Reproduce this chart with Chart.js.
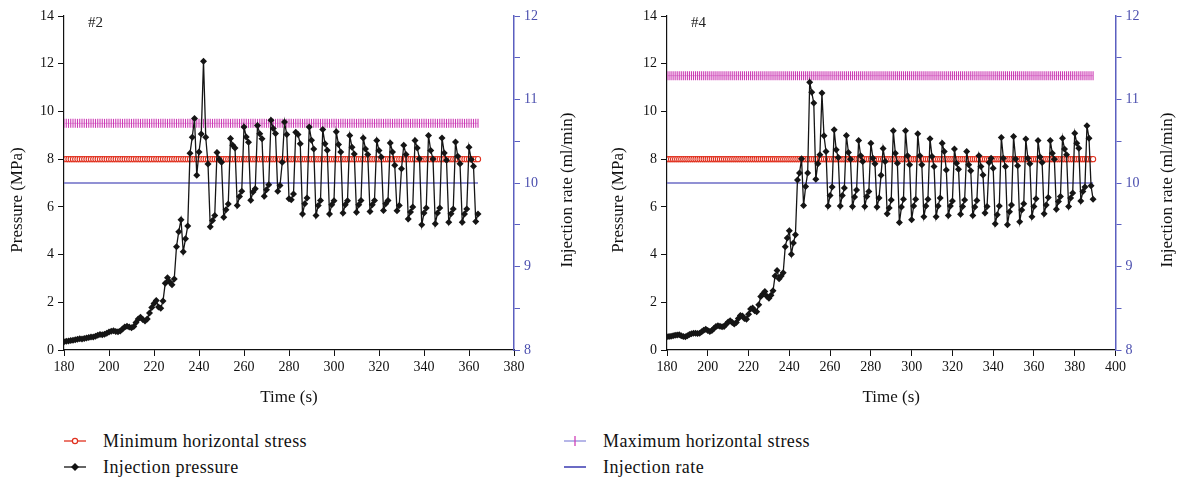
<!DOCTYPE html>
<html>
<head>
<meta charset="utf-8">
<script src="https://cdn.jsdelivr.net/npm/chart.js@4.4.1/dist/chart.umd.min.js"></script>
<style>
  body { margin: 0; background: #fff; width: 1182px; height: 481px; position: relative; overflow: hidden; font-family: "Liberation Serif", serif; }
  .box { position: absolute; top: 0; height: 420px; }
  .item { position: absolute; height: 20px; display: flex; align-items: center; font-size: 18px; letter-spacing: 0.4px; color: #111; }
  .item svg { margin-right: 15px; }
</style>
</head>
<body>
<div class="box" style="left:0;width:590px"><canvas id="c2"></canvas></div>
<div class="box" style="left:590px;width:592px"><canvas id="c4"></canvas></div>

<div class="item" style="left:62px;top:431px">
  <svg width="26" height="20"><line x1="2" y1="10" x2="24" y2="10" stroke="#e0301e" stroke-width="1.3"/><circle cx="13" cy="10" r="2.6" fill="#fff" stroke="#e0301e" stroke-width="1.2"/></svg>
  <span>Minimum horizontal stress</span>
</div>
<div class="item" style="left:62px;top:457px">
  <svg width="26" height="20"><line x1="2" y1="10" x2="24" y2="10" stroke="#111" stroke-width="1.3"/><polygon points="13,6 17,10 13,14 9,10" fill="#111"/></svg>
  <span>Injection pressure</span>
</div>
<div class="item" style="left:562px;top:431px">
  <svg width="26" height="20"><line x1="2" y1="10" x2="24" y2="10" stroke="#8f8fdc" stroke-width="1.3"/><line x1="13" y1="5" x2="13" y2="15" stroke="#d040b8" stroke-width="1.3"/></svg>
  <span>Maximum horizontal stress</span>
</div>
<div class="item" style="left:562px;top:457px">
  <svg width="26" height="20"><line x1="2" y1="10" x2="24" y2="10" stroke="#6b6bc4" stroke-width="2"/></svg>
  <span>Injection rate</span>
</div>

<script>
// sampling: one reading per second starting at 180 s
const startTime = 180;

// well #2 injection pressure (MPa), 180 s .. 364 s
const pressure2 = [
  0.35,0.37,0.38,0.40,0.41,0.43,0.45,0.47,0.46,0.48,
  0.50,0.52,0.54,0.55,0.58,0.62,0.65,0.64,0.66,0.70,
  0.75,0.79,0.81,0.78,0.77,0.80,0.88,0.96,1.00,0.96,
  0.93,0.98,1.15,1.30,1.37,1.28,1.22,1.30,1.55,1.78,
  1.95,2.08,1.80,1.75,2.05,2.80,3.03,2.85,2.73,2.98,
  4.33,4.96,5.46,4.12,4.66,5.20,8.25,8.92,9.70,7.33,
  8.30,9.05,12.10,8.92,7.80,5.17,5.43,5.64,8.28,8.00,
  7.87,5.56,5.88,6.12,8.87,8.58,8.47,6.06,6.43,6.65,
  9.35,8.93,8.71,6.28,6.62,6.76,9.41,9.06,8.85,6.44,
  6.72,6.93,9.63,9.28,9.08,6.65,6.89,7.87,9.56,9.03,
  6.34,6.30,6.54,9.13,9.03,8.64,5.70,6.13,6.37,9.35,
  8.79,8.43,5.64,6.06,6.27,9.24,8.64,8.37,5.70,6.09,
  6.26,9.15,8.61,8.30,5.74,6.09,6.26,8.99,8.50,8.22,
  5.77,6.09,6.27,8.89,8.43,8.19,5.81,6.09,6.27,8.78,
  8.36,8.09,5.85,6.13,6.27,8.68,8.30,7.74,5.84,6.06,
  7.60,8.58,8.19,5.49,5.78,5.99,8.78,8.47,8.02,5.25,
  5.74,5.95,8.99,8.36,8.01,5.29,5.74,5.95,8.89,8.26,
  7.95,5.35,5.71,5.91,8.72,8.12,7.81,5.36,5.70,5.91,
  8.50,7.98,7.70,5.39,5.70
];

// well #4 injection pressure (MPa), 180 s .. 389 s
const pressure4 = [
  0.56,0.57,0.58,0.60,0.62,0.63,0.64,0.60,0.57,0.56,
  0.60,0.65,0.68,0.70,0.70,0.69,0.70,0.76,0.83,0.87,
  0.82,0.78,0.82,0.90,0.98,1.02,1.00,0.97,0.99,1.08,
  1.17,1.23,1.15,1.09,1.15,1.32,1.45,1.42,1.32,1.29,
  1.50,1.72,1.76,1.65,1.60,1.90,2.24,2.35,2.45,2.25,
  2.17,2.30,2.48,3.10,3.33,2.99,3.10,3.24,4.33,4.69,
  5.00,4.01,4.48,4.83,7.13,7.42,8.02,6.06,6.85,7.42,
  11.22,10.80,10.35,7.16,7.81,8.18,10.77,8.98,8.32,6.04,
  6.48,6.83,9.23,8.39,8.07,6.04,6.48,6.79,8.99,8.28,
  8.00,6.01,6.41,6.71,8.78,8.14,7.90,6.01,6.43,6.64,
  8.67,8.04,7.81,5.99,6.37,7.33,8.45,7.90,5.71,5.95,
  6.29,9.19,8.25,7.83,5.34,5.99,6.32,9.19,8.14,7.76,
  5.46,6.04,6.32,9.06,8.14,7.76,5.59,6.04,6.32,8.85,
  8.11,7.69,5.59,6.04,6.37,8.67,8.32,7.55,5.64,6.04,
  6.25,8.42,7.83,7.58,5.69,6.01,6.29,8.32,7.76,7.51,
  5.64,5.99,6.27,8.14,7.69,7.34,5.74,6.01,7.86,8.04,
  7.62,5.29,5.67,6.04,8.91,8.04,7.69,5.25,5.80,6.08,
  8.95,8.01,7.72,5.38,5.87,6.13,8.84,8.04,7.81,5.59,
  6.01,6.34,8.78,8.09,7.86,5.71,6.08,6.39,8.78,8.25,
  8.00,5.90,6.22,6.43,8.88,8.42,8.18,6.01,6.37,6.58,
  9.09,8.67,8.46,6.25,6.64,6.83,9.40,8.88,6.88,6.32
];

const wells = ['#2', '#4'];
const xMax = [380, 400];
const minStress = [8, 8];        // MPa
const maxStress = [9.5, 11.5];   // MPa
const injRate = [10, 10];        // ml/min

const rateColor = '#5b5fc0';

Chart.defaults.font.family = '"Liberation Serif", serif';
Chart.defaults.font.size = 14;
Chart.defaults.color = '#111';

// well tag inside the plot plus the two vertical axis titles (both read bottom-to-top)
const tagPlugin = {
  id: 'tag',
  afterDraw(chart, args, opts) {
    const { ctx, chartArea } = chart;
    ctx.save();
    ctx.font = '15px "Liberation Serif"';
    ctx.fillStyle = '#222';
    ctx.textBaseline = 'middle';
    ctx.fillText(opts.text, chartArea.left + 24, chartArea.top + 7);

    ctx.font = '17px "Liberation Serif"';
    ctx.fillStyle = '#111';
    ctx.textAlign = 'center';
    for (const t of opts.titles) {
      ctx.save();
      ctx.translate(t.x, t.y);
      ctx.rotate(-Math.PI / 2);
      ctx.fillText(t.text, 0, 0);
      ctx.restore();
    }
    ctx.restore();
  }
};

function fixSize(prop, v) {
  return (scale) => { scale[prop] = v; };
}

function makeChart(id, i, sizes) {
  const pres = [pressure2, pressure4][i];
  const times = pres.map((_, k) => startTime + k);
  const flat = (v) => times.map(t => ({ x: t, y: v }));

  new Chart(document.getElementById(id), {
    type: 'line',
    data: {
      datasets: [
        {
          label: 'Injection pressure',
          data: pres.map((p, k) => ({ x: times[k], y: p })),
          borderColor: '#151515', backgroundColor: '#151515',
          borderWidth: 1.3, pointStyle: 'rectRot', pointRadius: 3.5,
          pointBorderWidth: 0, order: 0, yAxisID: 'y'
        },
        {
          label: 'Minimum horizontal stress',
          data: flat(minStress[i]),
          borderColor: '#e0301e', backgroundColor: '#fff',
          borderWidth: 1.2, pointStyle: 'circle', pointRadius: 2.6,
          pointBorderWidth: 1.1, order: 1, yAxisID: 'y'
        },
        {
          label: 'Maximum horizontal stress',
          data: flat(maxStress[i]),
          borderColor: '#e6a6de', pointBorderColor: '#cc3cb4',
          borderWidth: 1, pointStyle: 'line', pointRotation: 90, pointRadius: 4.5,
          pointBorderWidth: 1.1, order: 2, yAxisID: 'y'
        },
        {
          label: 'Injection rate',
          data: flat(injRate[i]),
          borderColor: '#6d6dc6', borderWidth: 1.5, pointRadius: 0,
          order: 3, yAxisID: 'y1'
        }
      ]
    },
    options: {
      responsive: true,
      maintainAspectRatio: false,
      animation: false,
      layout: { padding: { top: 16 } },
      plugins: {
        legend: { display: false },
        tooltip: { enabled: false },
        tag: {
          text: wells[i],
          titles: [
            { text: 'Pressure (MPa)', x: sizes.ytx, y: 200 },
            { text: 'Injection rate (ml/min)', x: sizes.y1tx, y: 190 }
          ]
        }
      },
      scales: {
        x: {
          type: 'linear', min: 180, max: xMax[i],
          ticks: { stepSize: 20, maxRotation: 0, padding: 3 },
          grid: { drawOnChartArea: false, color: '#111', tickLength: 6 },
          border: { color: '#111', width: 1.2 },
          title: { display: true, text: 'Time (s)', font: { size: 17 }, padding: { bottom: 12 } },
          afterFit: fixSize('height', 70)
        },
        y: {
          position: 'left', min: 0, max: 14,
          ticks: { stepSize: 2, padding: 4 },
          grid: { drawOnChartArea: false, color: '#111', tickLength: 6 },
          border: { color: '#111', width: 1.2 },
          afterFit: fixSize('width', sizes.yw)
        },
        y1: {
          position: 'right', min: 8, max: 12,
          ticks: {
            stepSize: 0.5, autoSkip: false, padding: 4, color: '#4a4eae',
            callback: v => Number.isInteger(v) ? v : ''
          },
          grid: { drawOnChartArea: false, color: rateColor, tickLength: 6 },
          border: { color: rateColor, width: 1.5 },
          afterFit: fixSize('width', sizes.y1w)
        }
      }
    },
    plugins: [tagPlugin]
  });
}

makeChart('c2', 0, { yw: 64, ytx: 18, y1w: 76, y1tx: 568 });
makeChart('c4', 1, { yw: 77, ytx: 29, y1w: 66.5, y1tx: 578 });
</script>
</body>
</html>
